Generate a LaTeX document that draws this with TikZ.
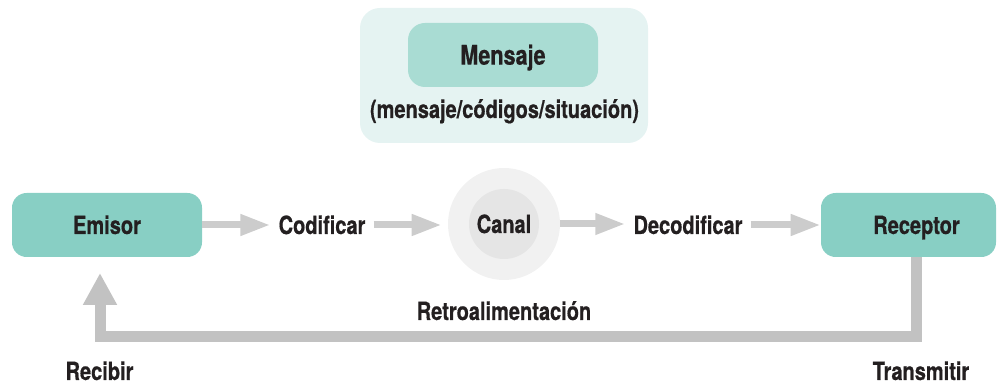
\documentclass[tikz,border=0pt]{standalone}
\usepackage{fontspec}
\setmainfont{TeX Gyre Heros}[FakeStretch=0.8, BoldFeatures={FakeBold=0.6}]
\usetikzlibrary{arrows.meta}
\definecolor{txt}{HTML}{231F20}
\definecolor{tealbox}{HTML}{88CFC4}
\definecolor{tealmid}{HTML}{A9DCD3}
\definecolor{teallight}{HTML}{E5F3F2}
\definecolor{arrowgray}{HTML}{CCCCCC}
\definecolor{fbgray}{HTML}{C2C2C2}
\definecolor{circout}{HTML}{F1F1F1}
\definecolor{circin}{HTML}{E5E5E5}
\begin{document}
\begin{tikzpicture}[x=0.75pt,y=-0.75pt,
  every node/.style={text=txt,font=\bfseries\fontsize{18.75}{20}\selectfont},
  box/.style={fill=tealbox, rounded corners=11pt, minimum height=48pt, inner sep=0pt, text height=13.5pt, text depth=0pt},
  lbl/.style={inner xsep=6pt, inner ysep=0pt, text height=13.5pt, text depth=0pt},
  flow/.style={draw=arrowgray, line width=5.25pt, -{Triangle[length=22.5pt,width=15pt]}},
  fb/.style={draw=fbgray, line width=8.25pt, line join=miter, -{Triangle[length=24pt,width=24pt]}}
]
\useasboundingbox (0,0) rectangle (997,384);
% message group
\node[fill=teallight, rounded corners=15pt, minimum width=216pt, minimum height=101.25pt, inner sep=0pt] (group) at (504,75.5) {};
\node[fill=tealmid, rounded corners=12.75pt, minimum width=142.5pt, minimum height=48pt, inner sep=0pt, text height=14.5pt, text depth=0pt, font=\bfseries\fontsize{20.25}{22}\selectfont] (mensaje) at (503,55) {Mensaje};
\node[anchor=base, inner sep=0pt] (sub) at (504.5,118) {(mensaje/códigos/situación)};
% main chain
\node[box, minimum width=142.5pt] (emisor) at (107,225) {Emisor};
\node[lbl] (cod) at (322,225) {Codificar};
\node[circle, fill=circout, minimum size=84pt, inner sep=0pt] (canal) at (504,224) {};
\node[circle, fill=circin, minimum size=52.5pt, inner sep=0pt, text height=13.5pt, text depth=0pt] (canalin) at (canal.center) {Canal};
\node[lbl] (dec) at (688,225) {Decodificar};
\node[box, minimum width=131.25pt] (receptor) at (908.5,225) {};
\node[lbl, inner xsep=0pt] (receptortxt) at ([xshift=6pt]receptor.center) {Receptor};
\draw[flow] (emisor.east) -- (emisor.east -| cod.west);
\draw[flow, shorten >=4.5pt] (cod.east) -- (cod.east -| canal.west);
\draw[flow] (canal.east) -- (canal.east -| dec.west);
\draw[flow] (dec.east) -- (dec.east -| receptor.west);
% feedback
\coordinate (fbA) at ([xshift=6pt]receptor.south);
\coordinate (fbB) at (100,337);
\coordinate (fbC) at (100,273);
\draw[fb] (fbA) |- (fbB) -- (fbC);
\node[anchor=base, inner sep=0pt] (retro) at (504,320) {Retroalimentación};
\node[anchor=base, inner sep=0pt] (recibir) at (99.5,380) {Recibir};
\node[anchor=base, inner sep=0pt] (transmitir) at (921,380) {Transmitir};
\end{tikzpicture}
\end{document}
